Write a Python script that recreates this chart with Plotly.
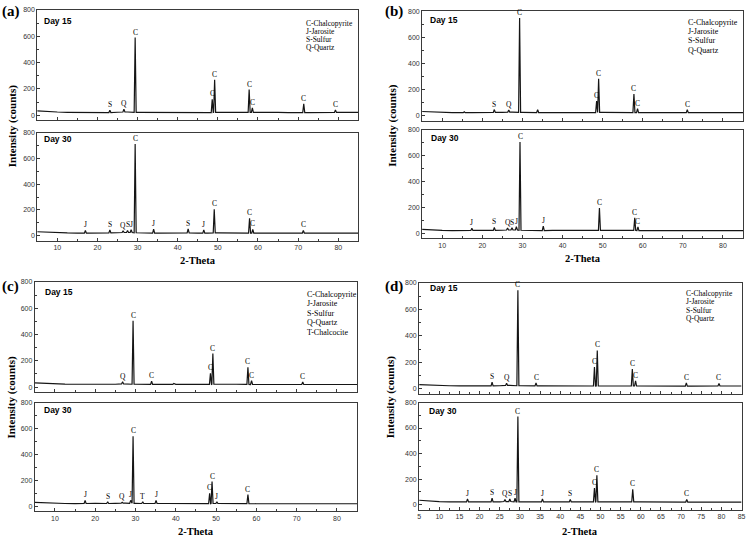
import numpy as np
import plotly.graph_objects as go

W, H = 752, 536

# ---------------- data ----------------
BASE_X = [5, 7.5, 10, 12.5, 15, 17.5, 20, 22.5, 25, 27.5, 30, 32.5, 35, 37.5, 40, 42.5,
          45, 47.5, 50, 52.5, 55, 57.5, 60, 62.5, 65, 67.5, 70, 72.5, 75, 77.5, 80, 82.5, 85]

BASE_A15 = [33, 27, 24, 22, 21, 20, 21, 20, 22, 24, 22, 21, 20, 21, 20, 22, 21, 20, 21, 22, 20, 21, 20, 19, 21, 20, 21, 20, 21, 20, 21, 20, 21]
BASE_A30 = [30, 26, 22, 21, 20, 19, 20, 21, 22, 24, 22, 20, 19, 20, 20, 21, 20, 19, 21, 22, 21, 20, 20, 19, 20, 19, 20, 20, 19, 20, 20, 19, 20]
BASE_B15 = [30, 26, 24, 22, 21, 22, 24, 23, 24, 26, 24, 23, 22, 21, 22, 21, 22, 22, 23, 24, 23, 22, 21, 21, 22, 21, 21, 22, 21, 21, 21, 20, 21]
BASE_B30 = [30, 25, 22, 21, 21, 22, 23, 22, 23, 25, 23, 22, 21, 22, 21, 22, 22, 21, 22, 24, 23, 22, 21, 21, 21, 20, 21, 21, 20, 21, 20, 20, 20]
BASE_C15 = [32, 28, 25, 23, 22, 21, 22, 21, 22, 24, 22, 21, 21, 22, 21, 21, 21, 21, 22, 24, 22, 21, 20, 21, 20, 20, 21, 20, 20, 21, 21, 20, 20]
BASE_C30 = [30, 26, 22, 21, 20, 21, 22, 21, 22, 23, 22, 21, 21, 21, 20, 20, 21, 20, 21, 22, 21, 20, 19, 20, 19, 19, 20, 19, 19, 20, 19, 19, 19]
BASE_D15 = [32, 28, 25, 23, 22, 22, 23, 22, 23, 25, 23, 22, 22, 21, 22, 21, 22, 21, 22, 24, 22, 21, 21, 21, 22, 21, 21, 20, 21, 21, 21, 20, 21]
BASE_D30 = [34, 28, 24, 22, 21, 21, 22, 21, 22, 24, 22, 21, 21, 22, 21, 21, 22, 21, 22, 24, 22, 21, 21, 21, 21, 20, 21, 20, 20, 21, 20, 20, 20]

POS_A15 = [23.1, 26.6, 29.4, 48.6, 49.2, 57.8, 58.6, 71.4, 79.3]
INT_A15 = [38, 45, 590, 120, 270, 195, 55, 87, 40]
LAB_A15 = ["S", "Q", "C", "C", "C", "C", "C", "C", "C"]

POS_A30 = [17.0, 23.1, 26.4, 27.5, 28.4, 29.4, 34.0, 42.6, 46.5, 49.1, 57.9, 58.7, 71.3]
INT_A30 = [40, 45, 38, 40, 45, 715, 50, 52, 45, 205, 135, 48, 40]
LAB_A30 = ["J", "S", "Q", "S", "J", "C", "J", "S", "J", "C", "C", "C", "C"]

POS_B15 = [15.5, 23.0, 26.6, 29.3, 33.8, 48.5, 49.0, 57.8, 58.7, 71.1]
INT_B15 = [28, 45, 42, 750, 45, 110, 282, 165, 52, 45]
LAB_B15 = ["", "S", "Q", "C", "", "C", "C", "C", "C", "C"]

POS_B30 = [17.4, 23.0, 26.3, 27.4, 28.5, 29.4, 35.2, 49.2, 58.0, 58.8]
INT_B30 = [38, 45, 40, 42, 50, 705, 55, 195, 120, 50]
LAB_B30 = ["J", "S", "Q", "S", "J", "C", "J", "C", "C", "C"]

POS_C15 = [26.8, 29.4, 34.0, 39.5, 48.6, 49.2, 57.9, 58.8, 71.5]
INT_C15 = [40, 505, 45, 28, 105, 255, 150, 50, 40]
LAB_C15 = ["Q", "C", "C", "", "C", "C", "C", "C", "C"]

POS_C30 = [17.5, 23.1, 26.7, 28.8, 29.4, 31.8, 35.1, 39.7, 48.4, 49.0, 50.2, 57.9]
INT_C30 = [45, 35, 30, 45, 540, 35, 45, 25, 100, 190, 35, 90]
LAB_C30 = ["J", "S", "Q", "J", "C", "T", "J", "", "C", "C", "J", "C"]

POS_D15 = [23.1, 26.7, 29.5, 34.0, 48.5, 49.2, 57.9, 58.7, 71.3, 79.4]
INT_D15 = [50, 42, 745, 45, 165, 290, 150, 60, 45, 40]
LAB_D15 = ["S", "Q", "C", "C", "C", "C", "C", "C", "C", "C"]

POS_D30 = [17.0, 23.1, 26.3, 27.5, 28.8, 29.5, 35.6, 42.5, 48.5, 49.1, 58.0, 71.4]
INT_D30 = [45, 50, 40, 45, 50, 690, 45, 40, 130, 230, 120, 40]
LAB_D30 = ["J", "S", "Q", "S", "J", "C", "J", "S", "C", "C", "C", "C"]

LEGEND_4 = ["C-Chalcopyrite", "J-Jarosite", "S-Sulfur", "Q-Quartz"]
LEGEND_5 = ["C-Chalcopyrite", "J-Jarosite", "S-Sulfur", "Q-Quartz", "T-Chalcocite"]
PANEL_LETTERS = ["(a)", "(b)", "(c)", "(d)"]
DAYS = ["Day 15", "Day 30"]
X_RANGE = [5, 85]
Y_RANGE = [-40, 800]

# ---------------- layout geometry (pixels) ----------------
HW = 0.25  # peak half width (deg)

panels = [
    dict(letter=(9, 8), x=(35.5, 359.2), top=(6, 117.3), bot=(130, 238.5),
         data=[(BASE_A15, POS_A15, INT_A15, LAB_A15), (BASE_A30, POS_A30, INT_A30, LAB_A30)],
         leg=LEGEND_4, legx=304, legy=[20, 28, 36, 44], legf=7.5,
         days=[(40.5, 16.7), (40.5, 136.5)], ytx=10, xty=258, dt=10, mdt=5),
    dict(letter=(395, 8), x=(423.5, 747), top=(7.5, 117.5), bot=(126.6, 236.2),
         data=[(BASE_B15, POS_B15, INT_B15, LAB_B15), (BASE_B30, POS_B30, INT_B30, LAB_B30)],
         leg=LEGEND_4, legx=689, legy=[18.5, 27.5, 37, 46.5], legf=8,
         days=[(429, 15.7), (430, 135)], ytx=394, xty=256, dt=10, mdt=5),
    dict(letter=(9, 285), x=(33, 358), top=(280, 391.3), bot=(401.6, 511.2),
         data=[(BASE_C15, POS_C15, INT_C15, LAB_C15), (BASE_C30, POS_C30, INT_C30, LAB_C30)],
         leg=LEGEND_5, legx=305, legy=[292.7, 302.2, 311.7, 321.2, 330.7], legf=8,
         days=[(41.5, 290), (40, 409.5)], ytx=10, xty=531, dt=10, mdt=5),
    dict(letter=(395, 285), x=(420.5, 745.5), top=(281, 393), bot=(401.5, 509.5),
         data=[(BASE_D15, POS_D15, INT_D15, LAB_D15), (BASE_D30, POS_D30, INT_D30, LAB_D30)],
         leg=LEGEND_4, legx=687, legy=[291.7, 300.2, 308.7, 317.2], legf=7.5,
         days=[(429, 285.7), (428, 410.5)], ytx=391, xty=531, dt=5, mdt=2.5),
]

SERIF = "Liberation Serif, Times New Roman, serif"
SANS = "Liberation Sans, Arial, sans-serif"


def px(x):
    return x / W


def py(y):
    return 1 - y / H


def build(base, pos, ints):
    bx = np.array(BASE_X, dtype=float)
    by = np.array(base, dtype=float)
    pts = []
    for x, y in zip(bx, by):
        if all(abs(x - p) > HW for p in pos):
            pts.append((x, y))
    for p, h in zip(pos, ints):
        foot = by[np.argmin(np.abs(bx - p))]
        pts += [(p - HW, foot), (p, h), (p + HW, foot)]
    pts.sort(key=lambda t: t[0])
    return [t[0] for t in pts], [t[1] for t in pts]


fig = go.Figure()
layout = dict(width=W, height=H, margin=dict(l=0, r=0, t=0, b=0),
              paper_bgcolor="white", plot_bgcolor="white", showlegend=False)
annotations = []

idx = 0
for pi, p in enumerate(panels):
    for k, (box, dat) in enumerate(zip([p["top"], p["bot"]], p["data"])):
        idx += 1
        sfx = "" if idx == 1 else str(idx)
        base, pos, ints, labs = dat
        xs, ys = build(base, pos, ints)
        fig.add_trace(go.Scatter(x=xs, y=ys, mode="lines",
                                 line=dict(color="#151515", width=1.2),
                                 xaxis="x" + sfx, yaxis="y" + sfx, hoverinfo="skip"))
        axline = dict(showline=True, linecolor="#3a3a3a", linewidth=1, mirror=True,
                      showgrid=False, zeroline=False, ticks="inside", ticklen=3,
                      tickwidth=1, tickcolor="#3a3a3a")
        layout["xaxis" + sfx] = dict(
            domain=[px(p["x"][0]), px(p["x"][1])], range=X_RANGE, anchor="y" + sfx,
            tick0=0, dtick=p["dt"], showticklabels=(k == 1),
            tickfont=dict(family=SANS, size=7, color="#333"),
            minor=dict(ticks="inside", ticklen=2, dtick=p["mdt"], tick0=0, tickcolor="#3a3a3a"),
            **axline)
        layout["yaxis" + sfx] = dict(
            domain=[py(box[1]), py(box[0])], range=Y_RANGE, anchor="x" + sfx,
            tick0=0, dtick=200, tickfont=dict(family=SANS, size=7, color="#333"),
            minor=dict(ticks="inside", ticklen=2, dtick=100, tick0=0, tickcolor="#3a3a3a"),
            **axline)
        for x, y, t in zip(pos, ints, labs):
            if t:
                annotations.append(dict(x=x, y=y, xref="x" + sfx, yref="y" + sfx, text=t,
                                        showarrow=False, yanchor="bottom", yshift=-1,
                                        font=dict(family=SERIF, size=7.5, color="#000")))
        dx, dy = p["days"][k]
        annotations.append(dict(x=px(dx), y=py(dy), xref="paper", yref="paper", text="<b>%s</b>" % DAYS[k],
                                showarrow=False, xanchor="left", yanchor="middle",
                                font=dict(family=SANS, size=8.5, color="#000")))
    for t, ly in zip(p["leg"], p["legy"]):
        annotations.append(dict(x=px(p["legx"]), y=py(ly), xref="paper", yref="paper", text=t,
                                showarrow=False, xanchor="left", yanchor="middle",
                                font=dict(family=SERIF, size=p["legf"], color="#000")))
    annotations.append(dict(x=px(p["letter"][0]), y=py(p["letter"][1]), xref="paper", yref="paper",
                            text="<b>%s</b>" % PANEL_LETTERS[pi], showarrow=False,
                            xanchor="center", yanchor="middle",
                            font=dict(family=SERIF, size=15, color="#000")))
    xc = (p["x"][0] + p["x"][1]) / 2
    annotations.append(dict(x=px(xc), y=py(p["xty"]), xref="paper", yref="paper", text="<b>2-Theta</b>",
                            showarrow=False, xanchor="center", yanchor="middle",
                            font=dict(family=SERIF, size=10.5, color="#000")))
    yc = (p["top"][0] + p["bot"][1]) / 2
    annotations.append(dict(x=px(p["ytx"]), y=py(yc), xref="paper", yref="paper",
                            text="<b>Intensity (counts)</b>", textangle=-90,
                            showarrow=False, xanchor="center", yanchor="middle",
                            font=dict(family=SERIF, size=11, color="#000")))

layout["annotations"] = annotations
fig.update_layout(**layout)
fig.write_html("out.html", config={"displayModeBar": False},
               post_script="document.body.style.margin='0';document.body.style.padding='0';"
                           "document.documentElement.style.overflow='hidden';")
